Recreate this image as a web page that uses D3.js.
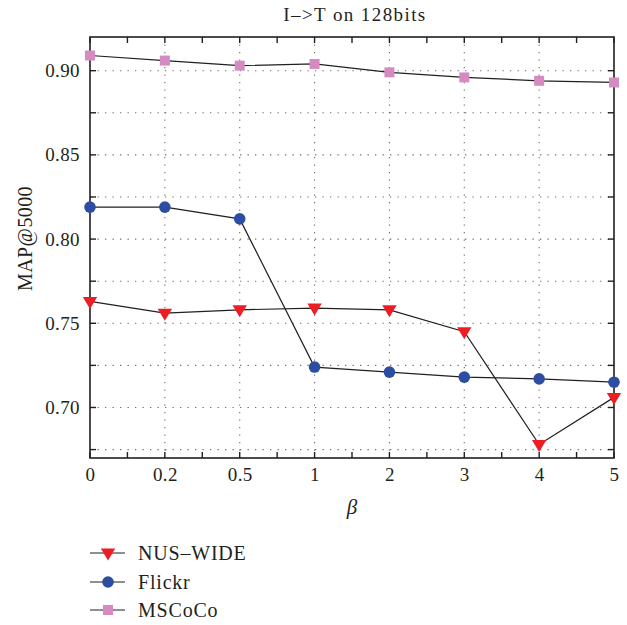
<!DOCTYPE html>
<html>
<head>
<meta charset="utf-8">
<script src="https://cdn.jsdelivr.net/npm/d3@7/dist/d3.min.js"></script>
<style>
  html, body { margin: 0; padding: 0; background: #fff; }
  svg { display: block; }
  text { font-family: "Liberation Serif", "DejaVu Serif", serif; fill: #231f20; }
</style>
</head>
<body>
<script>
// β values along the x axis (evenly spaced categories)
const betaLabels = ["0", "0.2", "0.5", "1", "2", "3", "4", "5"];

// MAP@5000 for each dataset
const nusWide = [0.763, 0.756, 0.758, 0.759, 0.758, 0.745, 0.678, 0.706];
const flickr  = [0.819, 0.819, 0.812, 0.724, 0.721, 0.718, 0.717, 0.715];
const mscoco  = [0.909, 0.906, 0.903, 0.904, 0.899, 0.896, 0.894, 0.893];

const seriesNames = ["NUS–WIDE", "Flickr", "MSCoCo"];
const yTickValues = [0.70, 0.75, 0.80, 0.85, 0.90];

const W = 627, H = 625;
const plotL = 90, plotR = 614, plotT = 37, plotB = 458;

const svg = d3.select("body").append("svg").attr("width", W).attr("height", H);

const x = d3.scalePoint().domain(betaLabels).range([plotL, plotR]);
const y = d3.scaleLinear().domain([0.67, 0.92]).range([plotB, plotT]);

// gridlines
const gridY = d3.range(0.675, 0.9201, 0.025).map(v => +v.toFixed(3));
const grid = svg.append("g").attr("stroke", "#6d6d6d").attr("stroke-width", 1.1)
  .attr("stroke-dasharray", "1.3,6.2");
grid.selectAll(".gy").data(gridY).join("line")
  .attr("x1", plotL).attr("x2", plotR)
  .attr("y1", d => y(d)).attr("y2", d => y(d));
grid.selectAll(".gx").data(betaLabels.slice(1, -1)).join("line")
  .attr("x1", d => x(d)).attr("x2", d => x(d))
  .attr("y1", plotT).attr("y2", plotB);

// frame
svg.append("rect").attr("x", plotL).attr("y", plotT)
  .attr("width", plotR - plotL).attr("height", plotB - plotT)
  .attr("fill", "none").attr("stroke", "#231f20").attr("stroke-width", 1.6);

// ticks: majors and mid-point minors on x, every 0.025 on y, all inward
const step = x.step();
const xTickPos = [];
betaLabels.forEach((d, i) => {
  xTickPos.push(x(d));
  if (i < betaLabels.length - 1) xTickPos.push(x(d) + step / 2);
});
const ticks = svg.append("g").attr("stroke", "#231f20").attr("stroke-width", 1.4);
const tl = 6;
xTickPos.forEach(px => {
  ticks.append("line").attr("x1", px).attr("x2", px).attr("y1", plotB).attr("y2", plotB - tl);
  ticks.append("line").attr("x1", px).attr("x2", px).attr("y1", plotT).attr("y2", plotT + tl);
});
gridY.forEach(v => {
  ticks.append("line").attr("x1", plotL).attr("x2", plotL + tl).attr("y1", y(v)).attr("y2", y(v));
  ticks.append("line").attr("x1", plotR).attr("x2", plotR - tl).attr("y1", y(v)).attr("y2", y(v));
});

// axis labels via d3 axes (domain and tick lines hidden)
const xAxis = svg.append("g").attr("transform", `translate(0,${plotB})`)
  .call(d3.axisBottom(x).tickSize(0).tickPadding(10));
const yAxis = svg.append("g").attr("transform", `translate(${plotL},0)`)
  .call(d3.axisLeft(y).tickValues(yTickValues).tickFormat(d3.format(".2f")).tickSize(0).tickPadding(10));
[xAxis, yAxis].forEach(g => {
  g.select(".domain").remove();
  g.selectAll("text").style("font-family", "'Liberation Serif', serif")
    .style("font-size", "19px").style("letter-spacing", "0.4px").attr("fill", "#231f20");
});

// titles
svg.append("text").attr("x", 355).attr("y", 21).attr("text-anchor", "middle")
  .style("font-size", "19px").style("letter-spacing", "1.4px").text("I–>T on 128bits");
svg.append("text").attr("transform", `translate(32,${(plotT + plotB) / 2 - 9}) rotate(-90)`)
  .attr("text-anchor", "middle").style("font-size", "20px").style("letter-spacing", "0.4px")
  .text("MAP@5000");
svg.append("text").attr("x", 352).attr("y", 514).attr("text-anchor", "middle")
  .style("font-size", "21px").style("font-style", "italic").text("β");

// series
const colors = ["#ee1d24", "#2c4da2", "#d58bc1"];
const allSeries = [nusWide, flickr, mscoco];
const line = d3.line().x((d, i) => x(betaLabels[i])).y(d => y(d));

function marker(g, kind, cx, cy, color) {
  if (kind === 0) {
    const s = 7.2;
    g.append("path")
      .attr("d", `M${cx - s},${cy - 4.5}L${cx + s},${cy - 4.5}L${cx},${cy + 7.5}Z`)
      .attr("fill", color);
  } else if (kind === 1) {
    g.append("circle").attr("cx", cx).attr("cy", cy).attr("r", 5.8).attr("fill", color);
  } else {
    g.append("rect").attr("x", cx - 5).attr("y", cy - 5).attr("width", 10).attr("height", 10)
      .attr("fill", color);
  }
}

const plot = svg.append("g");
allSeries.forEach((vals, k) => {
  plot.append("path").datum(vals).attr("d", line)
    .attr("fill", "none").attr("stroke", "#231f20").attr("stroke-width", 1.2);
});
allSeries.forEach((vals, k) => {
  vals.forEach((v, i) => marker(plot, k, x(betaLabels[i]), y(v), colors[k]));
});

// legend
const legY = [553, 582, 610];
seriesNames.forEach((name, k) => {
  const g = svg.append("g");
  g.append("line").attr("x1", 90).attr("x2", 125).attr("y1", legY[k]).attr("y2", legY[k])
    .attr("stroke", "#231f20").attr("stroke-width", 1.2);
  marker(g, k, 108, legY[k], colors[k]);
  g.append("text").attr("x", 138).attr("y", legY[k] + 7).style("font-size", "20px")
    .style("letter-spacing", "0.8px").text(name);
});
</script>
</body>
</html>
